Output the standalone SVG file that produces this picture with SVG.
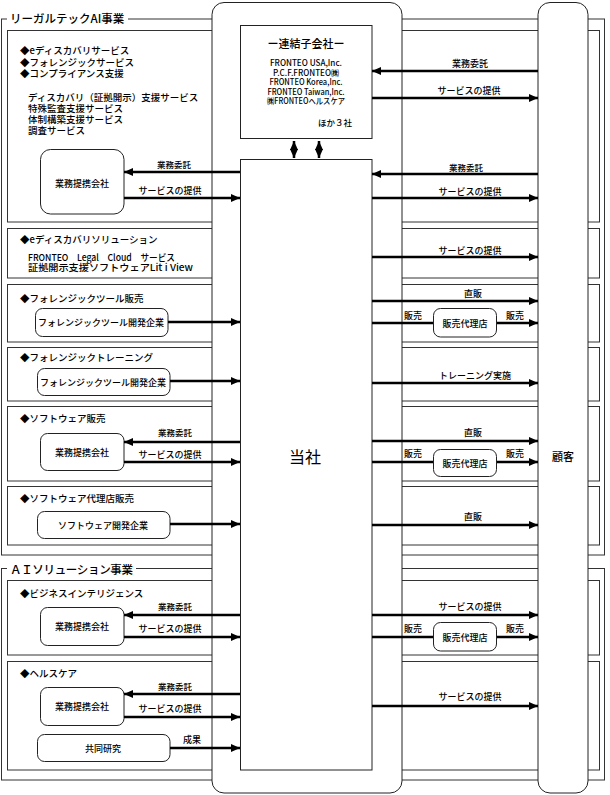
<svg xmlns="http://www.w3.org/2000/svg" width="610" height="795" viewBox="0 0 610 795">
<defs>
<marker id="ah" markerUnits="userSpaceOnUse" markerWidth="10" markerHeight="8" refX="9" refY="4" orient="auto-start-reverse">
<path d="M0,0 L9,4 L0,8 z" fill="#000"/>
</marker>
<style>
text{font-family:"Noto Sans CJK JP","Noto Sans CJK SC",sans-serif;fill:#000;dominant-baseline:central;font-weight:500}
.frame{fill:none;stroke:#333;stroke-width:1}
.col{fill:#fff;stroke:#222;stroke-width:1}
.box{fill:#fff;stroke:#222;stroke-width:1}
.node{fill:#fff;stroke:#222;stroke-width:1}
.title{font-size:11.5px}
.t{font-size:9.5px}
.s{font-size:8.5px}
.lb{font-size:9px;text-anchor:middle}
.lk{font-size:8.5px;text-anchor:middle}
.c{text-anchor:middle}
.arr{stroke:#000;stroke-width:2.5;fill:none;marker-end:url(#ah)}
.dbl{stroke:#000;stroke-width:2.5;fill:none;marker-end:url(#ah);marker-start:url(#ah)}
.ln{stroke:#000;stroke-width:2.5;fill:none}
</style>
</defs>

<g id="frames">
<rect class="frame" x="1.5" y="19" width="603" height="536"/>
<rect x="7" y="11" width="121" height="16" fill="#fff"/>
<text class="title" x="10" y="18">リーガルテックAI事業</text>
<rect class="frame" x="1.5" y="568.5" width="603" height="211.5"/>
<rect x="7" y="561" width="129" height="16" fill="#fff"/>
<text class="title" x="10" y="569" textLength="123">ＡＩソリューション事業</text>
<rect class="frame" x="7.5" y="30.5" width="592" height="191.5"/>
<rect class="frame" x="7.5" y="228.5" width="592" height="49.5"/>
<rect class="frame" x="7.5" y="284.5" width="592" height="57.5"/>
<rect class="frame" x="7.5" y="347.5" width="592" height="53.5"/>
<rect class="frame" x="7.5" y="406.5" width="592" height="74.5"/>
<rect class="frame" x="7.5" y="486.5" width="592" height="58.5"/>
<rect class="frame" x="7.5" y="580.5" width="592" height="74.5"/>
<rect class="frame" x="7.5" y="661.5" width="592" height="108.5"/>
</g>

<g id="section-texts">
<text class="t" x="20" y="50">◆eディスカバリサービス</text>
<text class="t" x="20" y="62">◆フォレンジックサービス</text>
<text class="t" x="20" y="73">◆コンプライアンス支援</text>
<text class="t" x="28" y="97">ディスカバリ（証拠開示）支援サービス</text>
<text class="t" x="28" y="108">特殊監査支援サービス</text>
<text class="t" x="28" y="119">体制構築支援サービス</text>
<text class="t" x="28" y="130">調査サービス</text>
<text class="t" x="20" y="239">◆eディスカバリソリューション</text>
<text class="t" x="28" y="257" textLength="147" lengthAdjust="spacingAndGlyphs">FRONTEO　Legal　Cloud　サービス</text>
<text class="t" x="28" y="267" textLength="165" lengthAdjust="spacingAndGlyphs">証拠開示支援ソフトウェアLit i View</text>
<text class="t" x="20" y="298">◆フォレンジックツール販売</text>
<text class="t" x="20" y="357">◆フォレンジックトレーニング</text>
<text class="t" x="20" y="418">◆ソフトウェア販売</text>
<text class="t" x="20" y="498">◆ソフトウェア代理店販売</text>
<text class="t" x="20" y="593">◆ビジネスインテリジェンス</text>
<text class="t" x="20" y="673">◆ヘルスケア</text>
</g>

<g id="node-tousha-col">
<rect class="col" x="212" y="2.5" width="190" height="790.5" rx="12"/>
</g>
<g id="node-kokyaku">
<rect class="col" x="538" y="2.5" width="50" height="790.5" rx="12"/>
<text x="563" y="456" class="c" style="font-size:11px">顧客</text>
</g>

<g id="node-renketsu">
<rect class="box" x="240.5" y="25.5" width="131.5" height="113"/>
<text x="306" y="43" class="c" style="font-size:11px">ー連結子会社ー</text>
<text x="306" y="62" class="c s" textLength="72" lengthAdjust="spacingAndGlyphs">FRONTEO USA,Inc.</text>
<text x="306" y="71.5" class="c s" textLength="66" lengthAdjust="spacingAndGlyphs">P.C.F.FRONTEO㈱</text>
<text x="306" y="81" class="c s" textLength="73" lengthAdjust="spacingAndGlyphs">FRONTEO Korea,Inc.</text>
<text x="306" y="90.5" class="c s" textLength="77" lengthAdjust="spacingAndGlyphs">FRONTEO Taiwan,Inc.</text>
<text x="306" y="100" class="c s" textLength="78" lengthAdjust="spacingAndGlyphs">㈱FRONTEOヘルスケア</text>
<text x="352" y="122" class="s" text-anchor="end">ほか３社</text>
</g>

<g id="node-tousha">
<rect class="box" x="240.5" y="159.5" width="131.5" height="610.5"/>
<text x="305" y="456" class="c" style="font-size:16px;font-weight:400">当社</text>
</g>

<g id="node-partner-1">
<rect class="node" x="40.5" y="149.5" width="83.5" height="64.5" rx="10"/>
<text x="82" y="183" class="lb">業務提携会社</text>
</g>
<g id="node-forensic-dev-1">
<rect class="node" x="35.5" y="308.5" width="132.5" height="28" rx="7"/>
<text x="101" y="322.5" class="lb">フォレンジックツール開発企業</text>
</g>
<g id="node-agent-1">
<rect class="node" x="433.5" y="308.5" width="63" height="28.5" rx="7"/>
<text x="465" y="323.5" class="lb">販売代理店</text>
</g>
<g id="node-forensic-dev-2">
<rect class="node" x="37.5" y="368.5" width="132.5" height="27" rx="7"/>
<text x="103" y="382" class="lb">フォレンジックツール開発企業</text>
</g>
<g id="node-partner-2">
<rect class="node" x="40.5" y="433.5" width="83.5" height="37" rx="7"/>
<text x="82" y="452" class="lb">業務提携会社</text>
</g>
<g id="node-agent-2">
<rect class="node" x="433.5" y="449.5" width="63" height="27" rx="7"/>
<text x="465" y="463" class="lb">販売代理店</text>
</g>
<g id="node-software-dev">
<rect class="node" x="37.5" y="511.5" width="132.5" height="27" rx="7"/>
<text x="103" y="525" class="lb">ソフトウェア開発企業</text>
</g>
<g id="node-partner-3">
<rect class="node" x="40.5" y="607.5" width="83.5" height="38" rx="7"/>
<text x="82" y="626.5" class="lb">業務提携会社</text>
</g>
<g id="node-agent-3">
<rect class="node" x="433.5" y="622.5" width="63" height="28.5" rx="7"/>
<text x="465" y="637" class="lb">販売代理店</text>
</g>
<g id="node-partner-4">
<rect class="node" x="40.5" y="687.5" width="83.5" height="38" rx="7"/>
<text x="82" y="706" class="lb">業務提携会社</text>
</g>
<g id="node-joint">
<rect class="node" x="37.5" y="734.5" width="132.5" height="27" rx="7"/>
<text x="103" y="748" class="lb">共同研究</text>
</g>

<g id="connectors">
<line class="dbl" x1="294" y1="141" x2="294" y2="158"/>
<line class="dbl" x1="319" y1="141" x2="319" y2="158"/>
<line class="arr" x1="538" y1="71" x2="372" y2="71"/>
<text class="lb" x="470" y="63">業務委託</text>
<line class="arr" x1="372" y1="98" x2="538" y2="98"/>
<text class="lb" x="469" y="90">サービスの提供</text>

<line class="arr" x1="240" y1="172" x2="124" y2="172"/>
<text class="lk" x="174" y="164">業務委託</text>
<line class="arr" x1="124" y1="198" x2="240" y2="198"/>
<text class="lb" x="170" y="190">サービスの提供</text>
<line class="arr" x1="538" y1="174" x2="372" y2="174"/>
<text class="lk" x="466" y="167">業務委託</text>
<line class="arr" x1="372" y1="198" x2="538" y2="198"/>
<text class="lb" x="470" y="191">サービスの提供</text>

<line class="arr" x1="372" y1="257" x2="538" y2="257"/>
<text class="lb" x="470" y="250">サービスの提供</text>

<line class="arr" x1="168" y1="322" x2="240" y2="322"/>
<line class="arr" x1="372" y1="301" x2="538" y2="301"/>
<text class="lb" x="473" y="293">直販</text>
<line class="ln" x1="372" y1="323" x2="433" y2="323"/>
<text class="lb" x="413" y="315">販売</text>
<line class="arr" x1="497" y1="323" x2="538" y2="323"/>
<text class="lb" x="515" y="315">販売</text>

<line class="arr" x1="170" y1="381" x2="240" y2="381"/>
<line class="arr" x1="372" y1="383" x2="538" y2="383"/>
<text class="lb" x="475" y="375">トレーニング実施</text>

<line class="arr" x1="240" y1="442" x2="124" y2="442"/>
<text class="lk" x="175" y="432">業務委託</text>
<line class="arr" x1="124" y1="462" x2="240" y2="462"/>
<text class="lb" x="170" y="454">サービスの提供</text>
<line class="arr" x1="372" y1="441" x2="538" y2="441"/>
<text class="lb" x="473" y="432">直販</text>
<line class="ln" x1="372" y1="462" x2="433" y2="462"/>
<text class="lb" x="413" y="453">販売</text>
<line class="arr" x1="497" y1="462" x2="538" y2="462"/>
<text class="lb" x="515" y="453">販売</text>

<line class="arr" x1="170" y1="524" x2="240" y2="524"/>
<line class="arr" x1="372" y1="525" x2="538" y2="525"/>
<text class="lb" x="473" y="516">直販</text>

<line class="arr" x1="240" y1="615" x2="124" y2="615"/>
<text class="lk" x="175" y="606">業務委託</text>
<line class="arr" x1="124" y1="637" x2="240" y2="637"/>
<text class="lb" x="170" y="628">サービスの提供</text>
<line class="arr" x1="372" y1="615" x2="538" y2="615"/>
<text class="lb" x="470" y="606">サービスの提供</text>
<line class="ln" x1="372" y1="637" x2="433" y2="637"/>
<text class="lb" x="413" y="628">販売</text>
<line class="arr" x1="497" y1="637" x2="538" y2="637"/>
<text class="lb" x="515" y="628">販売</text>

<line class="arr" x1="240" y1="694" x2="124" y2="694"/>
<text class="lk" x="175" y="686">業務委託</text>
<line class="arr" x1="124" y1="717" x2="240" y2="717"/>
<text class="lb" x="170" y="708">サービスの提供</text>
<line class="arr" x1="170" y1="748" x2="240" y2="748"/>
<text class="lb" x="192" y="739">成果</text>
<line class="arr" x1="372" y1="706" x2="538" y2="706"/>
<text class="lb" x="470" y="696">サービスの提供</text>
</g>
</svg>
